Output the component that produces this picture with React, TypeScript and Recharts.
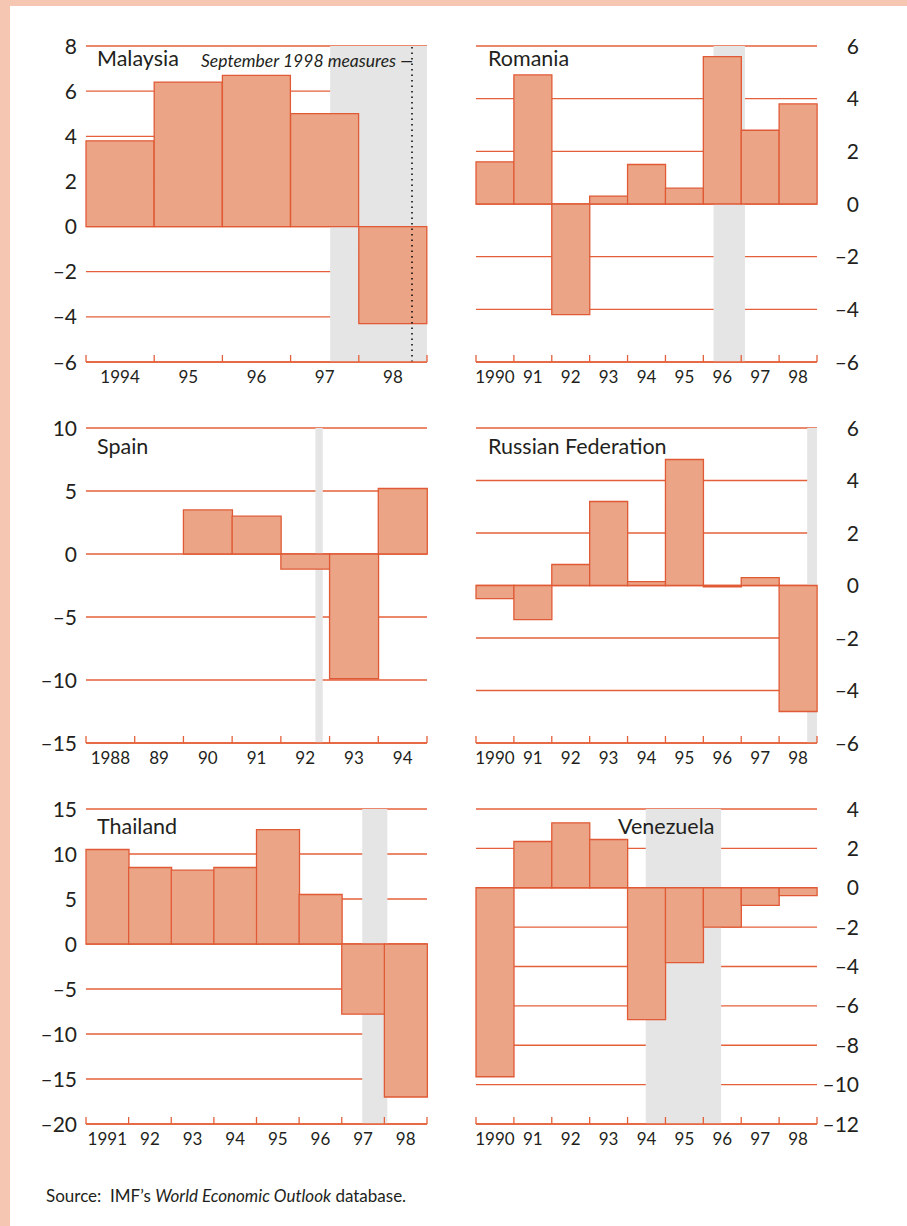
import React from 'react'
import { BarChart, Bar, XAxis, YAxis, CartesianGrid, ReferenceArea, ReferenceLine } from 'recharts'

const malaysiaYears = ['1994', '95', '96', '97', '98']
const malaysiaValues = [3.8, 6.4, 6.7, 5.0, -4.3]
const malaysiaTicks = [-6, -4, -2, 0, 2, 4, 6, 8]
const malaysiaShade = [3.58, 5]
const malaysiaMeasures = 4.78

const romaniaYears = ['1990', '91', '92', '93', '94', '95', '96', '97', '98']
const romaniaValues = [1.6, 4.9, -4.2, 0.3, 1.5, 0.6, 5.6, 2.8, 3.8]
const romaniaTicks = [-6, -4, -2, 0, 2, 4, 6]
const romaniaShade = [6.27, 7.1]

const spainYears = ['1988', '89', '90', '91', '92', '93', '94']
const spainValues = [null, null, 3.5, 3.0, -1.2, -9.9, 5.2]
const spainTicks = [-15, -10, -5, 0, 5, 10]
const spainShade = [4.71, 4.86]

const russiaYears = ['1990', '91', '92', '93', '94', '95', '96', '97', '98']
const russiaValues = [-0.5, -1.3, 0.8, 3.2, 0.15, 4.8, -0.05, 0.3, -4.8]
const russiaTicks = [-6, -4, -2, 0, 2, 4, 6]
const russiaShade = [8.74, 9]

const thailandYears = ['1991', '92', '93', '94', '95', '96', '97', '98']
const thailandValues = [10.5, 8.5, 8.2, 8.5, 12.7, 5.5, -7.8, -17.0]
const thailandTicks = [-20, -15, -10, -5, 0, 5, 10, 15]
const thailandShade = [6.48, 7.07]

const venezuelaYears = ['1990', '91', '92', '93', '94', '95', '96', '97', '98']
const venezuelaValues = [-9.6, 2.35, 3.3, 2.45, -6.7, -3.8, -2.0, -0.9, -0.4]
const venezuelaTicks = [-12, -10, -8, -6, -4, -2, 0, 2, 4]
const venezuelaShade = [4.48, 6.47]

const RED = '#e4603a'
const BAR_FILL = '#eba586'
const BAR_STROKE = '#e05a36'
const GREY = '#e5e5e5'
const INK = '#231f20'
const FONT = 'Lato, "Open Sans", sans-serif'
const PLOT_W = 341
const TOP_PAD = 20

const fmt = (v: number) => (v < 0 ? '\u2013' + Math.abs(v) : String(v))

const XTick = (props: any) => {
  const { x, y, payload, half, last } = props
  return (
    <g>
      <line x1={x - half} x2={x - half} y1={y} y2={y - 7} stroke={RED} strokeWidth={1.3} />
      {payload.value === last && (
        <line x1={x + half} x2={x + half} y1={y} y2={y - 7} stroke={RED} strokeWidth={1.3} />
      )}
      <text x={x} y={y + 9} dy="0.71em" textAnchor="middle" fontFamily={FONT} fontSize={17} fill={INK}>
        {payload.value}
      </text>
    </g>
  )
}

const YTick = (props: any) => {
  const { x, y, payload, shift } = props
  return (
    <text x={x + shift} y={y} dy="0.36em" textAnchor="end" fontFamily={FONT} fontSize={21} fill={INK}>
      {fmt(payload.value)}
    </text>
  )
}

type PanelProps = {
  side: 'left' | 'right'
  plotTop: number
  plotH: number
  years: string[]
  values: (number | null)[]
  ticks: number[]
  shade: number[]
  measures?: number
}

const Panel = ({ side, plotTop, plotH, years, values, ticks, shade, measures }: PanelProps) => {
  const isLeft = side === 'left'
  const data = years.map((year, i) => ({ year, v: values[i], idx: i + 0.5 }))
  const half = PLOT_W / years.length / 2
  const margin = isLeft
    ? { top: TOP_PAD, right: 13, left: 0, bottom: 0 }
    : { top: TOP_PAD, right: 30, left: 26, bottom: 0 }
  return (
    <div style={{ position: 'absolute', left: isLeft ? 0 : 450, top: plotTop - TOP_PAD }}>
      <BarChart
        width={isLeft ? 440 : 457}
        height={plotH + TOP_PAD + 40}
        data={data}
        margin={margin}
        barCategoryGap={0}
        barGap={0}
      >
        <XAxis
          xAxisId="n"
          type="number"
          dataKey="idx"
          domain={[0, years.length]}
          allowDataOverflow
          hide
        />
        <XAxis
          dataKey="year"
          interval={0}
          height={40}
          tickSize={0}
          tickMargin={0}
          tickLine={false}
          axisLine={{ stroke: RED, strokeWidth: 1.3 }}
          tick={(p: any) => <XTick {...p} half={half} last={years[years.length - 1]} />}
        />
        <YAxis
          orientation={isLeft ? 'left' : 'right'}
          width={isLeft ? 86 : 60}
          domain={[ticks[0], ticks[ticks.length - 1]]}
          ticks={ticks}
          interval={0}
          allowDataOverflow
          axisLine={false}
          tickLine={false}
          tickSize={0}
          tickMargin={0}
          tick={(p: any) => <YTick {...p} shift={isLeft ? -9 : 42} />}
        />
        <ReferenceArea
          xAxisId="n"
          x1={shade[0]}
          x2={shade[1]}
          fill={GREY}
          fillOpacity={1}
          stroke="none"
        />
        <CartesianGrid vertical={false} stroke={RED} strokeWidth={1.3} />
        <Bar
          dataKey="v"
          fill={BAR_FILL}
          stroke={BAR_STROKE}
          strokeWidth={1.3}
          isAnimationActive={false}
        />
        {measures != null && (
          <ReferenceLine
            xAxisId="n"
            x={measures}
            stroke="#000"
            strokeWidth={1.5}
            strokeDasharray="1.5 4"
          />
        )}
      </BarChart>
    </div>
  )
}

const Title = ({ text, left, top }: { text: string; left: number; top: number }) => (
  <div
    style={{
      position: 'absolute',
      left,
      top,
      fontFamily: FONT,
      fontSize: 21.5,
      lineHeight: 1,
      color: INK,
      whiteSpace: 'nowrap',
    }}
  >
    {text}
  </div>
)

export default function App() {
  return (
    <div
      style={{
        position: 'absolute',
        left: 0,
        top: 0,
        width: 907,
        height: 1226,
        background: '#f5c6b1',
        overflow: 'hidden',
      }}
    >
      <div style={{ position: 'absolute', left: 10, top: 6, width: 897, height: 1220, background: '#fff' }} />

      <Panel side="left" plotTop={46} plotH={316} years={malaysiaYears} values={malaysiaValues} ticks={malaysiaTicks} shade={malaysiaShade} measures={malaysiaMeasures} />
      <Panel side="right" plotTop={46} plotH={316} years={romaniaYears} values={romaniaValues} ticks={romaniaTicks} shade={romaniaShade} />
      <Panel side="left" plotTop={428} plotH={315} years={spainYears} values={spainValues} ticks={spainTicks} shade={spainShade} />
      <Panel side="right" plotTop={428} plotH={315} years={russiaYears} values={russiaValues} ticks={russiaTicks} shade={russiaShade} />
      <Panel side="left" plotTop={809} plotH={315} years={thailandYears} values={thailandValues} ticks={thailandTicks} shade={thailandShade} />
      <Panel side="right" plotTop={809} plotH={315} years={venezuelaYears} values={venezuelaValues} ticks={venezuelaTicks} shade={venezuelaShade} />

      <Title text="Malaysia" left={97} top={48} />
      <div
        style={{
          position: 'absolute',
          right: 907 - 413,
          top: 52,
          fontFamily: FONT,
          fontStyle: 'italic',
          fontSize: 17.5,
          lineHeight: 1,
          color: INK,
          whiteSpace: 'nowrap',
        }}
      >
        September 1998 measures —
      </div>
      <Title text="Romania" left={488} top={48} />
      <Title text="Spain" left={97} top={436} />
      <Title text="Russian Federation" left={488} top={436} />
      <Title text="Thailand" left={97} top={816} />
      <Title text="Venezuela" left={618} top={816} />

      <div
        style={{
          position: 'absolute',
          left: 46,
          top: 1187,
          fontFamily: FONT,
          fontSize: 17,
          lineHeight: 1,
          color: INK,
          whiteSpace: 'nowrap',
        }}
      >
        Source:&nbsp; IMF’s <i>World Economic Outlook</i> database.
      </div>
    </div>
  )
}
